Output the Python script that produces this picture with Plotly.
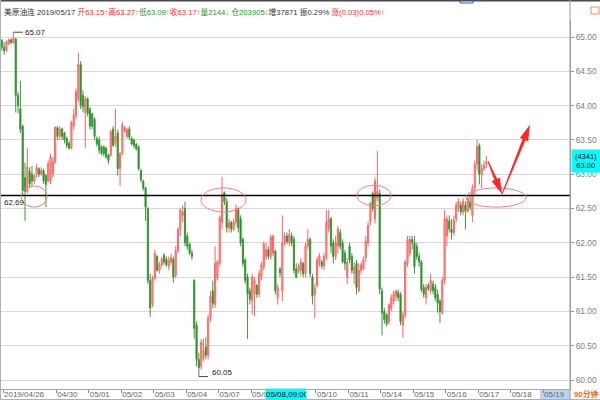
import math
import plotly.graph_objects as go

# ---------------- data: 90-minute bars, rows are (open, high, low, close) ----------------
day_0426 = [  # 04/26 + 04/29
    (64.95, 64.97, 64.80, 64.85), (64.85, 64.93, 64.74, 64.80), (64.80, 64.95, 64.78, 64.93),
    (64.90, 64.98, 64.88, 64.96), (64.96, 64.98, 64.90, 64.92), (64.92, 65.07, 64.90, 64.98),
    (64.97, 64.99, 63.90, 64.15), (64.15, 64.20, 63.89, 64.00), (63.95, 64.36, 63.60, 63.65),
    (63.70, 63.72, 62.70, 62.76), (62.95, 63.17, 62.32, 62.75), (62.75, 63.38, 62.72, 63.10),
    (63.04, 63.10, 62.80, 62.86), (63.00, 63.12, 62.82, 62.90), (62.90, 63.00, 62.86, 62.98),
    (63.00, 63.15, 62.95, 63.10), (63.08, 63.10, 62.96, 63.00), (63.00, 63.10, 62.98, 63.06),
    (63.05, 63.08, 62.86, 62.90), (62.98, 63.00, 62.52, 62.85), (62.90, 63.20, 62.88, 63.15),
    (62.90, 63.30, 62.85, 63.25), (63.00, 63.25, 62.95, 63.18), (63.18, 63.70, 63.15, 63.68),
]
day_0430 = [
    (63.68, 63.70, 63.50, 63.55), (63.55, 63.70, 63.50, 63.66), (63.66, 63.68, 63.50, 63.55),
    (63.60, 63.62, 63.45, 63.50), (63.52, 63.55, 63.38, 63.42), (63.45, 63.48, 63.36, 63.38),
    (63.38, 63.78, 63.36, 63.75), (63.70, 63.95, 63.65, 63.86), (63.85, 64.25, 63.80, 64.20),
    (64.10, 64.77, 64.05, 64.60), (64.60, 64.65, 63.95, 64.00), (64.15, 64.22, 63.90, 63.98),
    (63.90, 64.14, 63.38, 64.10), (64.10, 64.12, 63.84, 63.88),
]
day_0501 = [
    (63.95, 63.98, 63.65, 63.70), (63.88, 63.90, 63.66, 63.70), (63.80, 63.83, 63.50, 63.55),
    (63.52, 63.55, 63.40, 63.44), (63.50, 63.55, 63.30, 63.35), (63.40, 63.42, 63.28, 63.30),
    (63.40, 63.42, 63.26, 63.30), (63.38, 63.40, 63.22, 63.25), (63.28, 63.30, 63.15, 63.20),
    (63.28, 63.65, 63.25, 63.62), (63.66, 63.70, 63.40, 63.42), (63.45, 63.95, 63.40, 63.55),
    (63.60, 63.65, 62.98, 63.08), (63.08, 63.32, 62.83, 63.30),
]
day_0502 = [
    (63.30, 63.76, 63.28, 63.72), (63.63, 63.70, 63.60, 63.68), (63.55, 63.68, 63.52, 63.65),
    (63.66, 63.70, 63.50, 63.54), (63.52, 63.55, 63.42, 63.44), (63.50, 63.52, 63.38, 63.42),
    (63.44, 63.46, 63.34, 63.37), (63.40, 63.42, 63.05, 63.08), (63.05, 63.08, 62.88, 62.92),
    (62.90, 62.92, 62.76, 62.80), (62.80, 62.82, 62.32, 62.52), (62.50, 62.52, 61.40, 61.45),
    (61.45, 61.55, 60.92, 61.05), (61.10, 61.52, 61.06, 61.48),
]
day_0503 = [
    (61.48, 61.90, 61.45, 61.85), (61.80, 61.82, 61.58, 61.60), (61.60, 61.72, 61.55, 61.68),
    (61.68, 61.80, 61.65, 61.76), (61.82, 61.85, 61.68, 61.72), (61.76, 61.80, 61.65, 61.68),
    (61.66, 61.80, 61.60, 61.74), (61.72, 61.84, 61.68, 61.78), (61.76, 61.80, 61.42, 61.50),
    (61.52, 61.95, 61.48, 61.88), (61.88, 62.22, 61.85, 62.20), (62.20, 62.50, 62.10, 62.48),
    (62.40, 62.55, 62.30, 62.45), (62.50, 62.60, 61.95, 62.00),
]
day_0504 = [
    (62.10, 62.15, 61.90, 61.95), (61.98, 62.00, 61.82, 61.85), (61.85, 61.90, 61.75, 61.80),
    (61.45, 61.47, 60.60, 60.75), (60.80, 60.85, 60.20, 60.30), (60.30, 60.40, 60.05, 60.18),
    (60.20, 60.60, 60.15, 60.55), (60.32, 60.60, 60.28, 60.42), (60.48, 60.62, 60.30, 60.36),
    (60.36, 60.95, 60.30, 60.90), (60.90, 61.30, 60.85, 61.22), (61.30, 61.45, 61.05, 61.12),
    (61.10, 61.95, 61.05, 61.70), (61.50, 61.75, 61.45, 61.72),
]
day_0507 = [
    (61.70, 62.40, 61.65, 62.36), (62.30, 62.96, 62.20, 62.70), (62.73, 62.75, 62.55, 62.60),
    (62.60, 62.65, 62.15, 62.22), (62.22, 62.35, 62.15, 62.30), (62.30, 62.32, 62.15, 62.20),
    (62.20, 62.35, 62.17, 62.30), (62.30, 62.56, 62.25, 62.50), (62.50, 62.52, 62.15, 62.22),
    (62.35, 62.40, 61.95, 62.00), (62.05, 62.08, 61.65, 61.70), (61.75, 61.78, 61.40, 61.45),
    (61.50, 61.55, 60.60, 61.25), (61.30, 61.35, 61.10, 61.18),
]
day_0508 = [
    (61.15, 61.55, 60.95, 61.50), (61.25, 61.50, 60.93, 61.45), (61.38, 61.40, 61.20, 61.25),
    (61.25, 61.60, 61.20, 61.55), (61.50, 61.72, 61.45, 61.68), (61.65, 62.02, 61.60, 61.98),
    (61.80, 62.00, 61.75, 61.90), (61.90, 61.95, 61.76, 61.80), (61.80, 62.12, 61.75, 62.08),
    (61.85, 62.12, 61.80, 62.10), (61.88, 61.90, 61.25, 61.30), (61.20, 61.40, 61.10, 61.35),
    (61.62, 61.65, 61.50, 61.56), (61.30, 62.40, 61.15, 62.00),
]
day_0509 = [
    (62.00, 62.15, 61.95, 62.10), (62.10, 62.15, 61.98, 62.02), (62.00, 62.20, 61.95, 62.12),
    (62.10, 62.15, 61.95, 62.00), (62.05, 62.10, 61.55, 61.60), (61.62, 61.70, 61.48, 61.50),
    (61.58, 61.70, 61.55, 61.66), (61.60, 61.78, 61.52, 61.72), (61.70, 61.72, 61.50, 61.55),
    (61.55, 62.00, 61.50, 61.95), (61.95, 62.20, 61.90, 62.05), (62.05, 62.08, 61.50, 61.55),
    (61.50, 61.55, 61.10, 61.22), (61.25, 61.40, 60.90, 61.35),
]
day_0510 = [
    (61.38, 61.80, 61.35, 61.75), (61.70, 61.85, 61.65, 61.80), (61.72, 61.75, 61.62, 61.66),
    (61.66, 61.85, 61.60, 61.80), (61.80, 62.48, 61.75, 62.30), (62.20, 62.48, 62.15, 62.35),
    (62.35, 62.38, 61.85, 61.95), (62.00, 62.05, 61.70, 61.80), (61.80, 62.10, 61.75, 62.00),
    (61.95, 62.25, 61.85, 62.20), (62.15, 62.20, 61.90, 61.95), (62.00, 62.05, 61.70, 61.72),
    (61.85, 61.90, 61.60, 61.70), (61.50, 61.78, 61.40, 61.72),
]
day_0511 = [
    (61.95, 62.00, 61.70, 61.75), (61.80, 61.85, 61.55, 61.60), (61.55, 61.72, 61.40, 61.65),
    (61.70, 61.75, 61.25, 61.35), (61.30, 61.70, 61.28, 61.60), (61.60, 61.72, 61.55, 61.68),
    (61.62, 61.80, 61.60, 61.75), (61.78, 62.10, 61.72, 62.02), (62.00, 62.30, 61.95, 62.25),
    (62.30, 62.60, 62.25, 62.58), (62.72, 62.75, 62.45, 62.50), (62.35, 62.95, 62.28, 62.90),
    (62.65, 63.34, 62.60, 62.75), (62.72, 62.78, 61.25, 61.32),
]
day_0514 = [
    (61.30, 61.35, 60.65, 60.98), (61.00, 61.05, 60.82, 60.88), (60.95, 60.98, 60.78, 60.82),
    (60.85, 61.12, 60.80, 61.10), (61.05, 61.25, 61.00, 61.20), (61.15, 61.30, 61.10, 61.25),
    (61.22, 61.32, 61.15, 61.30), (61.28, 61.32, 61.15, 61.20), (61.25, 61.28, 60.80, 60.85),
    (60.80, 61.00, 60.62, 60.95), (60.95, 61.75, 60.90, 61.72), (61.70, 62.10, 61.65, 62.05),
    (61.85, 62.10, 61.80, 62.05), (62.05, 62.10, 61.90, 62.00),
]
day_0515 = [
    (62.00, 62.10, 61.55, 61.65), (61.95, 62.00, 61.75, 61.80), (61.80, 61.85, 61.65, 61.72),
    (61.72, 61.75, 61.28, 61.32), (61.35, 61.40, 61.20, 61.25), (61.20, 61.40, 61.10, 61.35),
    (61.38, 61.42, 61.30, 61.33), (61.30, 61.55, 61.25, 61.45), (61.40, 61.45, 61.25, 61.30),
    (61.35, 61.40, 61.15, 61.20), (61.25, 61.32, 60.98, 61.12), (61.15, 61.18, 60.83, 61.00),
    (60.98, 61.50, 60.95, 61.45), (61.45, 62.48, 61.40, 62.35),
]
day_0516 = [
    (62.10, 62.40, 61.95, 62.35), (62.32, 62.40, 62.15, 62.20), (62.20, 62.35, 62.05, 62.15),
    (62.15, 62.40, 62.10, 62.33), (62.35, 62.60, 62.30, 62.55), (62.50, 62.65, 62.45, 62.60),
    (62.55, 62.60, 62.40, 62.45), (62.45, 62.65, 62.40, 62.60), (62.55, 62.60, 62.20, 62.46),
    (62.46, 62.70, 62.44, 62.65), (62.60, 62.70, 62.48, 62.52), (62.40, 62.85, 62.30, 62.80),
    (62.80, 63.20, 62.70, 63.15), (63.15, 63.50, 63.05, 63.40),
]
day_0517 = [
    (63.42, 63.45, 62.85, 63.00), (63.00, 63.15, 62.80, 63.08), (63.08, 63.20, 63.05, 63.13),
    (63.15, 63.27, 63.09, 63.17),
]

tick_bars = [0.5, 23.5, 37.5, 51.5, 65.5, 79.5, 93.5, 107.5, 121.5, 135.5,
             149.5, 163.5, 177.5, 191.5, 205.5, 219.5, 233.5]
tick_labels = ["2019/04/26", "04/30", "05/01", "05/02", "05/03", "05/04", "05/07", "05/08",
               "", "05/10", "05/11", "05/14", "05/15", "05/16", "05/17", "05/18", "05/19"]
price_ticks = [60.0, 60.5, 61.0, 61.5, 62.0, 62.5, 63.0, 63.5, 64.0, 64.5, 65.0]
support_level = 62.69

header_parts = [
    ("美原油连 2019/05/17 ", "#333333"), ("开63.15↑高63.27↑", "#ff2d2d"), ("低63.09", "#1e9a1e"),
    ("↑", "#ff5a5a"), ("收63.17↑", "#ff2d2d"), ("量2144↓ 仓203905↓", "#1e9a1e"),
    ("增37871 振0.29% ", "#333333"), ("涨(0.03)0.05%↑", "#ff2d2d"),
]

# ---------------- build ----------------
days = [day_0426, day_0430, day_0501, day_0502, day_0503, day_0504, day_0507, day_0508,
        day_0509, day_0510, day_0511, day_0514, day_0515, day_0516, day_0517]
rows = [r for d in days for r in d]
opens = [r[0] for r in rows]
highs = [r[1] for r in rows]
lows = [r[2] for r in rows]
closes = [r[3] for r in rows]
bars = list(range(len(rows)))

X_LO, X_HI = -0.3628, 245.1
Y_LO, Y_HI = 59.869, 65.248
PL, PR, PT, PB = 1, 570, 20, 389
FONT = "Liberation Sans, Arial, Noto Sans CJK SC, sans-serif"


def to_px(i, p):
    return (PL + (i - X_LO) / (X_HI - X_LO) * (PR - PL),
            PB - (p - Y_LO) / (Y_HI - Y_LO) * (PB - PT))


def to_data(x, y):
    return (X_LO + (x - PL) / (PR - PL) * (X_HI - X_LO),
            Y_LO + (PB - y) / (PB - PT) * (Y_HI - Y_LO))


def px_paper(x, y):
    return ((x - PL) / (PR - PL), (PB - y) / (PB - PT))


fig = go.Figure(go.Candlestick(
    x=bars, open=opens, high=highs, low=lows, close=closes,
    increasing=dict(line=dict(color="#ff6464", width=1), fillcolor="#ffa4a4"),
    decreasing=dict(line=dict(color="#3a9a3a", width=1), fillcolor="#008000"),
    whiskerwidth=0, hoverinfo="skip", showlegend=False,
))

shapes = []
annotations = []

# support line
shapes.append(dict(type="line", xref="paper", x0=0, x1=1, yref="y", y0=support_level,
                   y1=support_level, line=dict(color="#000000", width=1.6), layer="above"))

# highlight ellipses (index, price bounds)
ellipses = [(8.3, 19.5, 62.52, 62.83), (85.9, 105.3, 62.45, 62.80),
            (153.2, 167.9, 62.54, 62.84), (200.2, 226.1, 62.52, 62.80)]
for x0, x1, y0, y1 in ellipses:
    shapes.append(dict(type="circle", xref="x", yref="y", x0=x0, x1=x1, y0=y0, y1=y1,
                       line=dict(color="#ff7f7f", width=1), layer="above"))

# red arrows (tail -> head, in bar index / price)
arrows = [((209.7, 63.19), (215.8, 62.71)), ((215.8, 62.71), (227.85, 63.72))]
for (ti, tp), (hi, hp) in arrows:
    tx, ty = to_px(ti, tp)
    hx, hy = to_px(hi, hp)
    L = math.hypot(hx - tx, hy - ty)
    ux, uy = (hx - tx) / L, (hy - ty) / L
    nx, ny = -uy, ux
    hl, hw, w0, w1 = 16, 4.5, 0.5, 1.5
    neck = (hx - ux * hl, hy - uy * hl)
    pts = [(tx + nx * w0, ty + ny * w0), (neck[0] + nx * w1, neck[1] + ny * w1),
           (neck[0] + nx * hw, neck[1] + ny * hw), (hx, hy),
           (neck[0] - nx * hw, neck[1] - ny * hw), (neck[0] - nx * w1, neck[1] - ny * w1),
           (tx - nx * w0, ty - ny * w0)]
    dp = [to_data(*p) for p in pts]
    path = "M " + " L ".join(f"{a:.3f},{b:.4f}" for a, b in dp) + " Z"
    shapes.append(dict(type="path", xref="x", yref="y", path=path, fillcolor="#ff2626",
                       line=dict(width=0), layer="above"))

# max / min markers
imax = max(bars, key=lambda i: highs[i])
imin = min(bars, key=lambda i: lows[i])
shapes.append(dict(type="line", xref="x", yref="y", x0=imax, x1=imax + 4, y0=highs[imax],
                   y1=highs[imax], line=dict(color="#444444", width=1)))
annotations.append(dict(x=imax + 4.2, y=highs[imax], xref="x", yref="y", text=f"{highs[imax]:.2f}",
                        showarrow=False, xanchor="left", yanchor="middle",
                        font=dict(size=8, color="#222222", family=FONT)))
shapes.append(dict(type="line", xref="x", yref="y", x0=imin, x1=imin + 4, y0=lows[imin],
                   y1=lows[imin], line=dict(color="#444444", width=1)))
annotations.append(dict(x=imin + 4.6, y=lows[imin], xref="x", yref="y", text=f"{lows[imin]:.2f}",
                        showarrow=False, xanchor="left", yanchor="bottom", yshift=-2,
                        font=dict(size=8, color="#222222", family=FONT)))

# support label
annotations.append(dict(x=px_paper(1.5, 0)[0], y=support_level, xref="paper", yref="y",
                        text=f"{support_level:.2f}", showarrow=False, xanchor="left",
                        yanchor="top", yshift=-1, font=dict(size=8, color="#222222", family=FONT)))

# header
header = "".join(f'<span style="color:{c}">{t}</span>' for t, c in header_parts)
hx, hy = px_paper(1.5, 12)
annotations.append(dict(x=hx, y=hy, xref="paper", yref="paper", text=header, showarrow=False,
                        xanchor="left", yanchor="middle", font=dict(size=7.7, family=FONT)))

# cursor time box on x axis
bx, by = px_paper(265, 394)
annotations.append(dict(x=bx, y=by, xref="paper", yref="paper", text="05/08,09:00",
                        showarrow=False, xanchor="left", yanchor="middle", bgcolor="#00ffff",
                        width=40, height=10, borderpad=0, align="left",
                        font=dict(size=8, color="#000000", family=FONT)))
# last price box on y axis
px_, py_ = px_paper(571, 160.5)
annotations.append(dict(x=px_, y=py_, xref="paper", yref="paper", text="(4341)<br>63.00",
                        showarrow=False, xanchor="left", yanchor="middle", bgcolor="#00ffff",
                        width=28, height=22, borderpad=0, align="center",
                        font=dict(size=7.5, color="#000000", family=FONT)))
# period label
qx, qy = px_paper(572, 394)
annotations.append(dict(x=qx, y=qy, xref="paper", yref="paper", text="<b>90分钟</b>",
                        showarrow=False, xanchor="left", yanchor="middle",
                        font=dict(size=7.8, color="#f26a1b", family=FONT)))

# 05/19 highlighted tick background
a0, b0 = px_paper(540, 389.5)
a1, b1 = px_paper(570, 399)
shapes.append(dict(type="rect", xref="paper", yref="paper", x0=a0, x1=a1, y0=b1, y1=b0,
                   fillcolor="#b9d3f2", line=dict(width=0), layer="below"))

# frame lines
c0 = px_paper(0, 400)
c1 = px_paper(600, 0)
shapes.append(dict(type="line", xref="paper", yref="paper", x0=c0[0], x1=c1[0], y0=px_paper(0, 0.7)[1],
                   y1=px_paper(0, 0.7)[1], line=dict(color="#4a4a4a", width=1.5)))
shapes.append(dict(type="line", xref="paper", yref="paper", x0=1, x1=1, y0=c0[1], y1=c1[1],
                   line=dict(color="#9a9a9a", width=1)))
shapes.append(dict(type="line", xref="paper", yref="paper", x0=px_paper(0.5, 0)[0],
                   x1=px_paper(0.5, 0)[0], y0=c0[1], y1=c1[1], line=dict(color="#b0b0b0", width=1)))
shapes.append(dict(type="line", xref="paper", yref="paper", x0=c0[0], x1=c1[0],
                   y0=px_paper(0, 399.5)[1], y1=px_paper(0, 399.5)[1],
                   line=dict(color="#b0b0b0", width=1)))
# small toolbar icons
t0 = px_paper(460, 3)
t1 = px_paper(473, 0)
shapes.append(dict(type="rect", xref="paper", yref="paper", x0=t0[0], x1=t1[0], y0=t0[1], y1=t1[1],
                   line=dict(color="#3b5b9a", width=1)))
o0 = px_paper(591, 14)
o1 = px_paper(599, 7)
shapes.append(dict(type="rect", xref="paper", yref="paper", x0=o0[0], x1=o1[0], y0=o0[1], y1=o1[1],
                   line=dict(color="#f0905a", width=1)))

fig.update_layout(
    width=600, height=400,
    margin=dict(l=PL, r=600 - PR, t=PT, b=400 - PB),
    paper_bgcolor="#ffffff", plot_bgcolor="#ffffff",
    font=dict(family=FONT, size=8, color="#666666"),
    showlegend=False, hovermode=False,
    shapes=shapes, annotations=annotations,
    xaxis=dict(
        type="linear", range=[X_LO, X_HI], rangeslider=dict(visible=False),
        tickmode="array", tickvals=tick_bars, ticktext=tick_labels,
        ticks="outside", ticklen=3, tickcolor="#888888", ticklabelposition="outside right",
        ticklabelstandoff=-3,
        tickfont=dict(size=8, color="#666666", family=FONT),
        showgrid=False, zeroline=False, showline=True, linecolor="#a8a8a8", linewidth=1,
        fixedrange=True, automargin=False,
    ),
    yaxis=dict(
        side="right", range=[Y_LO, Y_HI], tickmode="array", tickvals=price_ticks,
        tickformat=".2f", ticks="outside", ticklen=3, tickcolor="#999999",
        tickfont=dict(size=8.4, color="#808080", family=FONT),
        showgrid=True, gridcolor="#d9d9d9", gridwidth=1, zeroline=False,
        showline=True, linecolor="#a0a0a0", linewidth=1, fixedrange=True, automargin=False,
    ),
)

fig.write_html(
    "out.html",
    config={"displayModeBar": False, "staticPlot": True},
    post_script="document.body.style.margin='0';document.body.style.padding='0';",
)
